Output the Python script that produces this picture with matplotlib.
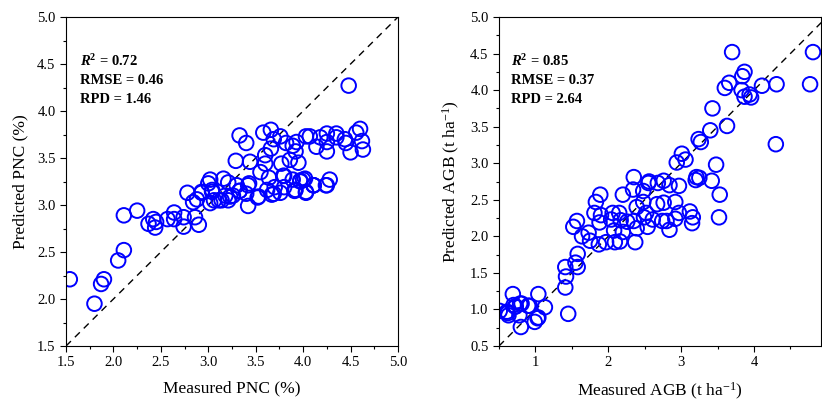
import matplotlib.pyplot as plt
from matplotlib.ticker import MultipleLocator

plt.rcParams["font.family"] = ["Liberation Serif", "DejaVu Serif"]
plt.rcParams["mathtext.fontset"] = "custom"
plt.rcParams["mathtext.rm"] = "Liberation Serif"
plt.rcParams["mathtext.it"] = "Liberation Serif:italic"
plt.rcParams["mathtext.bf"] = "Liberation Serif:bold"
plt.rcParams["mathtext.bfit"] = "Liberation Serif:bold:italic"

# PNC (%): measured vs predicted
pnc_measured = [
    1.54, 1.80, 1.87, 1.90, 2.05, 2.11, 2.11, 2.25, 2.37, 2.42, 2.45, 2.44,
    2.57, 2.64, 2.64, 2.74, 2.74, 2.86, 2.90, 2.78, 2.84, 2.88, 2.93, 3.00,
    3.02, 3.04, 3.06, 3.14, 3.18, 3.21, 3.21, 3.26, 3.33, 3.40, 3.42, 3.43,
    3.52, 3.62, 3.67, 3.70, 3.76, 3.80, 3.92, 3.97, 4.03, 4.11, 4.24, 4.28,
    3.33, 3.40, 3.58, 3.66, 3.69, 3.76, 3.82, 3.89, 3.93, 3.92, 4.03, 4.07,
    4.14, 4.18, 4.25, 4.25, 4.25, 4.35, 4.35, 4.44, 4.45, 4.50, 4.56, 4.60,
    4.62, 4.63, 3.29, 3.44, 3.60, 3.60, 3.66, 3.77, 3.86, 3.95, 3.55, 3.64,
    3.80, 3.89, 3.97, 4.02, 4.11, 4.25, 3.91, 4.03, 4.48, 3.02, 3.16, 3.30,
    3.42, 3.79, 4.00, 2.93, 3.04, 3.11, 3.23, 3.33, 3.53, 3.69, 3.91, 4.11,
]
pnc_predicted = [
    2.21, 1.95, 2.16, 2.21, 2.41, 2.52, 2.89, 2.94, 2.80, 2.85, 2.82, 2.76,
    2.85, 2.92, 2.85, 2.87, 2.77, 2.87, 2.79, 3.13, 3.03, 3.06, 3.14, 3.23,
    3.02, 3.14, 3.05, 3.05, 3.10, 3.24, 3.05, 3.10, 3.15, 3.12, 2.99, 3.23,
    3.08, 3.16, 3.11, 3.19, 3.13, 3.19, 3.16, 3.25, 3.13, 3.21, 3.21, 3.27,
    3.74, 3.66, 3.77, 3.80, 3.70, 3.73, 3.66, 3.63, 3.67, 3.57, 3.73, 3.73,
    3.62, 3.72, 3.76, 3.67, 3.57, 3.76, 3.72, 3.70, 3.66, 3.56, 3.77, 3.81,
    3.68, 3.59, 3.47, 3.46, 3.53, 3.44, 3.60, 3.44, 3.48, 3.45, 3.35, 3.29,
    3.31, 3.27, 3.26, 3.28, 3.21, 3.21, 3.16, 3.14, 4.27, 3.27, 3.28, 3.21,
    3.21, 3.31, 3.27, 3.13, 3.16, 3.05, 3.09, 3.15, 3.09, 3.12, 3.15, 3.21,
]

# AGB (t ha-1): measured vs predicted
agb_measured = [
    3.70, 4.81, 3.60, 3.66, 3.84, 3.87, 3.83, 3.87, 3.94, 3.96, 4.11, 4.31,
    4.77, 4.30, 3.43, 3.40, 3.63, 3.24, 3.27, 2.94, 3.01, 3.06, 3.48, 3.21,
    3.25, 3.42, 3.53, 2.35, 2.34, 2.48, 2.56, 2.68, 2.76, 2.84, 2.97, 1.89,
    2.20, 1.83, 1.81, 1.90, 1.88, 1.57, 1.52, 1.64, 1.73, 1.75, 1.87, 1.97,
    2.04, 2.06, 2.08, 2.09, 2.15, 2.17, 2.16, 2.20, 2.26, 2.35, 2.37, 2.39,
    2.39, 2.48, 2.49, 2.52, 2.54, 2.61, 2.55, 2.67, 2.74, 2.76, 2.80, 2.84,
    2.92, 2.92, 2.97, 3.12, 3.15, 3.16, 3.52, 3.20, 1.41, 1.42, 1.41, 1.45,
    1.58, 1.58, 1.55, 0.69, 0.70, 0.73, 0.81, 0.92, 1.04, 1.13, 1.04, 0.99,
    0.80, 0.78, 0.63, 0.51, 0.61, 0.72, 0.79, 0.90, 0.62, 1.03,
]
agb_predicted = [
    4.52, 4.52, 4.03, 4.10, 4.19, 4.25, 4.00, 3.91, 3.94, 3.90, 4.06, 4.08,
    4.08, 3.26, 3.75, 3.45, 3.51, 3.33, 3.29, 3.01, 3.13, 3.05, 2.98, 2.81,
    2.80, 2.76, 2.57, 2.81, 2.64, 2.62, 2.75, 2.73, 2.76, 2.70, 2.69, 2.57,
    2.57, 2.47, 2.32, 2.29, 2.19, 2.21, 2.13, 2.00, 2.05, 1.94, 1.89, 1.92,
    2.23, 2.32, 2.08, 1.92, 2.32, 2.22, 1.93, 2.06, 2.20, 2.21, 1.92, 2.11,
    2.40, 2.47, 2.26, 2.32, 2.13, 2.23, 2.73, 2.44, 2.21, 2.46, 2.21, 2.09,
    2.47, 2.24, 2.32, 2.34, 2.18, 2.26, 2.26, 2.77, 1.58, 1.45, 1.30, 0.94,
    1.76, 1.58, 1.64, 1.21, 1.06, 1.04, 1.08, 1.05, 1.21, 1.03, 0.89, 0.83,
    0.76, 0.92, 0.92, 0.98, 0.97, 1.04, 1.08, 1.05, 0.95, 0.88,
]

fig = plt.figure(figsize=(8.22, 4.01), dpi=100)
ax1 = fig.add_axes([66 / 822, 55 / 401, 332 / 822, 329 / 401])
ax2 = fig.add_axes([499 / 822, 55 / 401, 322 / 822, 329 / 401])

panels = [
    (ax1, pnc_measured, pnc_predicted, (1.5, 5.0), (1.5, 5.0), 0.5,
     "Measured PNC (%)", "Predicted PNC (%)", ("0.72", "0.46", "1.46"), 0.043),
    (ax2, agb_measured, agb_predicted, (0.5, 4.92), (0.5, 5.0), 1.0,
     "Measured AGB (t ha$^{-1}$)", "Predicted AGB (t ha$^{-1}$)", ("0.85", "0.37", "2.64"), 0.036),
]

for ax, xs, ys, xlim, ylim, xstep, xlabel, ylabel, stats, tx in panels:
    lo = min(xlim[0], ylim[0])
    hi = max(xlim[1], ylim[1])
    ax.plot([lo, hi], [lo, hi], color="black", linestyle=(0, (5, 4)), linewidth=1.0, zorder=1)
    ax.scatter(xs, ys, s=110, facecolors="none", edgecolors="#0000ff", linewidths=1.4, zorder=2)
    ax.set_xlim(*xlim)
    ax.set_ylim(*ylim)
    ax.xaxis.set_major_locator(MultipleLocator(xstep))
    ax.xaxis.set_minor_locator(MultipleLocator(xstep / 2))
    ax.yaxis.set_major_locator(MultipleLocator(0.5))
    ax.yaxis.set_minor_locator(MultipleLocator(0.25))
    if xstep == 0.5:
        ax.xaxis.set_major_formatter(plt.FormatStrFormatter("%.1f"))
    else:
        ax.xaxis.set_major_formatter(plt.FormatStrFormatter("%d"))
    ax.yaxis.set_major_formatter(plt.FormatStrFormatter("%.1f"))
    ax.tick_params(which="major", direction="out", length=4, width=0.8, labelsize=10.5)
    ax.tick_params(which="minor", direction="out", length=2.5, width=0.8)
    ax.set_xlabel(xlabel, fontsize=12.5, labelpad=8)
    ax.set_ylabel(ylabel, fontsize=12.5, labelpad=6)
    ax.text(tx, 0.866, r"$\boldsymbol{R}^{\mathbf{2}}$" + " = " + stats[0],
            transform=ax.transAxes, fontsize=10.5, fontweight="bold", va="center")
    ax.text(tx, 0.806, "RMSE = " + stats[1], transform=ax.transAxes,
            fontsize=10.5, fontweight="bold", va="center")
    ax.text(tx, 0.750, "RPD = " + stats[2], transform=ax.transAxes,
            fontsize=10.5, fontweight="bold", va="center")

fig.savefig("out.png", dpi=100)
